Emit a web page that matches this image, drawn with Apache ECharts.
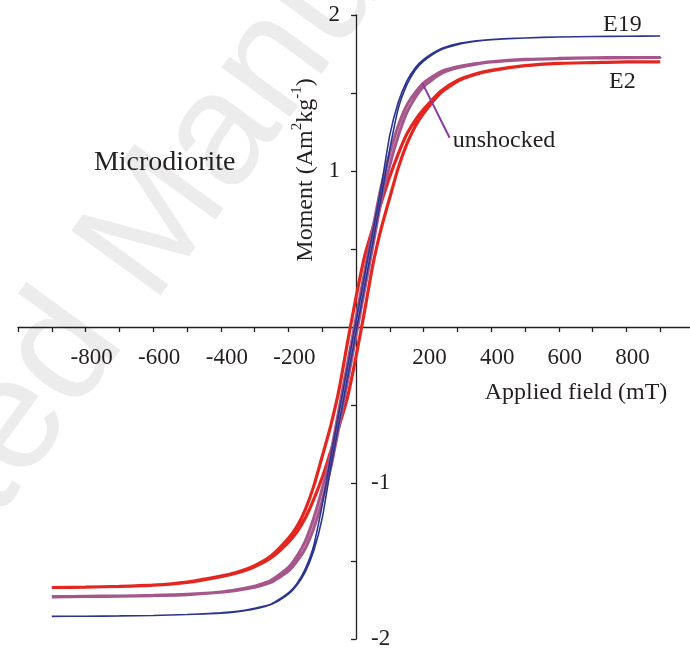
<!DOCTYPE html>
<html>
<head>
<meta charset="utf-8">
<script src="https://cdn.jsdelivr.net/npm/echarts@6/dist/echarts.min.js"></script>
<style>
  html, body { margin: 0; padding: 0; background: #fff; }
  #chart { width: 690px; height: 650px; }
</style>
</head>
<body>
<div id="chart"></div>
<script>
// applied field (mT), shared by every branch
var field = [-900, -800, -700, -600, -500, -400, -350, -300, -250, -200, -175, -150, -125, -100, -75, -50, -25,
             0, 25, 50, 75, 100, 125, 150, 175, 200, 250, 300, 350, 400, 500, 600, 700, 800, 900];

// E19 - upper (descending) and lower (ascending) branch, Am2/kg
var e19Upper = [-1.855, -1.854, -1.852, -1.849, -1.843, -1.832, -1.822, -1.803, -1.775, -1.705, -1.645, -1.55, -1.40, -1.14, -0.835, -0.545, -0.255,
                0.035, 0.325, 0.615, 0.905, 1.23, 1.44, 1.575, 1.66, 1.715, 1.782, 1.815, 1.833, 1.843, 1.853, 1.859, 1.862, 1.864, 1.865];
var e19Lower = [-1.855, -1.854, -1.852, -1.849, -1.843, -1.835, -1.825, -1.808, -1.778, -1.712, -1.655, -1.57, -1.435, -1.225, -0.905, -0.615, -0.325,
                -0.035, 0.255, 0.545, 0.835, 1.14, 1.40, 1.55, 1.645, 1.705, 1.776, 1.81, 1.83, 1.841, 1.853, 1.859, 1.862, 1.864, 1.865];

// unshocked
var unshUpper = [-1.728, -1.726, -1.724, -1.72, -1.713, -1.698, -1.682, -1.661, -1.622, -1.541, -1.47, -1.372, -1.224, -1.036, -0.815, -0.522, -0.232,
                 0.058, 0.348, 0.635, 0.905, 1.115, 1.29, 1.42, 1.502, 1.565, 1.636, 1.668, 1.687, 1.701, 1.716, 1.722, 1.726, 1.728, 1.73];
var unshLower = [-1.73, -1.728, -1.726, -1.722, -1.716, -1.701, -1.687, -1.668, -1.636, -1.565, -1.502, -1.42, -1.29, -1.115, -0.905, -0.635, -0.348,
                 -0.058, 0.232, 0.522, 0.815, 1.036, 1.224, 1.372, 1.47, 1.541, 1.622, 1.661, 1.682, 1.698, 1.713, 1.72, 1.724, 1.726, 1.728];

// E2
var e2Upper = [-1.67, -1.667, -1.663, -1.655, -1.635, -1.597, -1.57, -1.53, -1.465, -1.355, -1.28, -1.17, -1.02, -0.83, -0.635, -0.40, -0.097,
               0.19, 0.45, 0.635, 0.80, 0.965, 1.11, 1.235, 1.325, 1.395, 1.51, 1.58, 1.62, 1.645, 1.675, 1.69, 1.695, 1.70, 1.70];
var e2Lower = [-1.67, -1.667, -1.663, -1.655, -1.637, -1.60, -1.575, -1.537, -1.478, -1.38, -1.315, -1.225, -1.105, -0.965, -0.80, -0.635, -0.45,
               -0.19, 0.097, 0.40, 0.635, 0.83, 1.02, 1.17, 1.285, 1.37, 1.50, 1.575, 1.617, 1.643, 1.675, 1.69, 1.695, 1.70, 1.70];

// x tick labels that are printed
var xLabels = [-800, -600, -400, -200, 200, 400, 600, 800];

var serif = '"Liberation Serif", "Times New Roman", serif';
var ink = '#231f20';

// plot box, and where the zero lines fall inside it
var box = { left: 18, right: -4, top: 15, bottom: 11 };
var boxW = 690 - box.left - box.right;
var boxH = 650 - box.top - box.bottom;
var xMin = -1000, xMax = 1000, yMin = -2, yMax = 2;
var xZeroShift = -boxW * (0 - xMin) / (xMax - xMin);
var yZeroShift = -boxH * (0 - yMin) / (yMax - yMin);

// lower branch going up, then upper branch coming back
function loop(lower, upper){
    var pts = [];
    for(var i = 0; i < field.length; i++){
        pts.push([field[i], lower[i]]);
    }
    for(var j = field.length - 1; j >= 0; j--){
        pts.push([field[j], upper[j]]);
    }
    return pts;
}

function tag(text, coord, size){
    return {
        coord: coord,
        symbol: 'circle',
        symbolSize: 0,
        itemStyle: { color: 'rgba(0,0,0,0)' },
        label: { show: true, position: 'inside', formatter: text, color: ink, fontFamily: serif, fontSize: size || 24 }
    };
}

var option = {
    animation: false,
    backgroundColor: '#fff',
    grid: { left: box.left, right: box.right, top: box.top, bottom: box.bottom, containLabel: false, outerBoundsMode: 'none' },
    graphic: [
        {
            type: 'text', x: 138, y: 251, rotation: 0.942, z: -10, silent: true,
            style: {
                text: 'Accepted Manuscript',
                font: '160px "Liberation Sans", Arial, sans-serif',
                fill: '#ececec',
                align: 'center', verticalAlign: 'middle',
                textAlign: 'center', textVerticalAlign: 'middle'
            }
        },
        {
            type: 'text', x: 576, y: 393,
            style: {
                text: 'Applied field (mT)', font: '24px ' + serif, fill: ink,
                align: 'center', verticalAlign: 'middle',
                textAlign: 'center', textVerticalAlign: 'middle'
            }
        },
        {
            type: 'text', x: 304, y: 170, rotation: Math.PI / 2,
            style: {
                text: '{a|Moment (Am}{s|2}{a|kg}{s|-1}{a|)}',
                fill: ink,
                align: 'center', verticalAlign: 'middle',
                textAlign: 'center', textVerticalAlign: 'middle',
                rich: {
                    a: { fontFamily: serif, fontSize: 24, lineHeight: 28, verticalAlign: 'bottom', fill: ink },
                    s: { fontFamily: serif, fontSize: 15, lineHeight: 28, verticalAlign: 'top', fill: ink }
                }
            }
        }
    ],
    xAxis: {
        type: 'value',
        position: 'bottom',
        offset: yZeroShift,
        min: xMin,
        max: xMax,
        interval: 100,
        splitLine: { show: false },
        axisLine: { onZero: false, lineStyle: { color: ink, width: 1.3 } },
        axisTick: { length: 5, lineStyle: { color: ink, width: 1.3 } },
        axisLabel: {
            margin: 19,
            padding: [0, 0, 0, 12],
            color: ink,
            fontFamily: serif,
            fontSize: 23,
            formatter: function(v){
                return xLabels.indexOf(v) >= 0 ? String(v) : '';
            }
        }
    },
    yAxis: [
        {
            type: 'value',
            position: 'left',
            offset: xZeroShift,
            min: yMin,
            max: yMax,
            interval: 0.5,
            splitLine: { show: false },
            axisLine: { onZero: false, lineStyle: { color: ink, width: 1.3 } },
            axisTick: { length: 5, lineStyle: { color: ink, width: 1.3 } },
            axisLabel: {
                margin: 16,
                color: ink,
                fontFamily: serif,
                fontSize: 23,
                formatter: function(v){
                    return (v > 0 && v % 1 === 0) ? String(v) : '';
                }
            }
        },
        {
            type: 'value',
            position: 'left',
            offset: xZeroShift,
            min: yMin,
            max: yMax,
            interval: 0.5,
            splitLine: { show: false },
            axisLine: { show: false, onZero: false },
            axisTick: { show: false },
            axisLabel: {
                inside: true,
                margin: 15,
                color: ink,
                fontFamily: serif,
                fontSize: 23,
                formatter: function(v){
                    return (v < 0 && v % 1 === 0) ? String(v) : '';
                }
            }
        }
    ],
    series: [
        {
            name: 'E2',
            type: 'line',
            showSymbol: false,
            smooth: 0.2,
            data: loop(e2Lower, e2Upper),
            lineStyle: { color: '#e3261f', width: 3.2 },
            itemStyle: { color: '#e3261f' },
            markPoint: {
                silent: true,
                data: [tag('E2', [788, 1.575]), tag('Microdiorite', [-566, 1.055], 28)]
            }
        },
        {
            name: 'unshocked',
            type: 'line',
            showSymbol: false,
            smooth: 0.2,
            data: loop(unshLower, unshUpper),
            lineStyle: { color: '#a5568a', width: 3 },
            itemStyle: { color: '#a5568a' },
            markLine: {
                silent: true,
                symbol: ['none', 'none'],
                label: { show: false },
                lineStyle: { color: '#8b3a9e', width: 2, type: 'solid' },
                data: [[{ coord: [196, 1.565] }, { coord: [277, 1.213] }]]
            },
            markPoint: {
                silent: true,
                data: [tag('unshocked', [438, 1.195])]
            }
        },
        {
            name: 'E19',
            type: 'line',
            showSymbol: false,
            smooth: 0.2,
            data: loop(e19Lower, e19Upper),
            lineStyle: { color: '#2b3590', width: 1.6 },
            itemStyle: { color: '#2b3590' },
            markPoint: {
                silent: true,
                data: [tag('E19', [788, 1.935])]
            }
        }
    ]
};

var myChart = echarts.init(document.getElementById('chart'));
myChart.setOption(option);
</script>
</body>
</html>
